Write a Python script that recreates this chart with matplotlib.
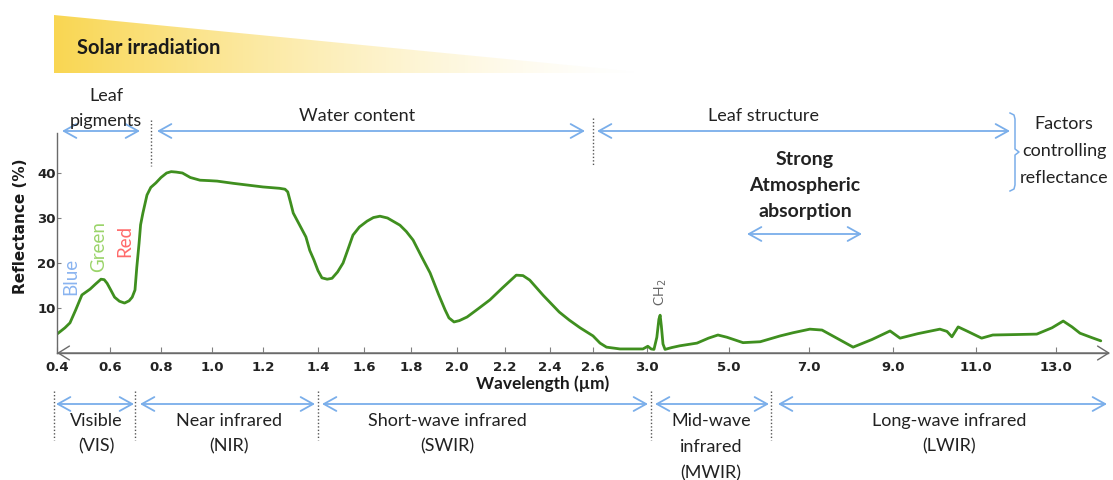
import numpy as np
import matplotlib
matplotlib.use('Agg')
import matplotlib.pyplot as plt
from matplotlib.patches import Polygon
from matplotlib.ticker import FixedLocator, FixedFormatter, NullLocator

plt.rcParams['font.family'] = ['Lato', 'DejaVu Sans']

# ---------------- data ----------------
wavelength = [0.40, 0.43, 0.449, 0.47, 0.494, 0.525, 0.545, 0.566, 0.578, 0.589,
              0.603, 0.618, 0.637, 0.657, 0.675, 0.687, 0.698, 0.705, 0.714, 0.72,
              0.729, 0.745, 0.76, 0.78, 0.80, 0.822, 0.84, 0.86, 0.884, 0.915,
              0.953, 0.99, 1.02, 1.084, 1.2, 1.26, 1.28, 1.29, 1.30, 1.31,
              1.33, 1.356, 1.37, 1.385, 1.40, 1.417, 1.44, 1.461, 1.485, 1.509,
              1.53, 1.552, 1.58, 1.613, 1.64, 1.668, 1.70, 1.753, 1.78, 1.809,
              1.845, 1.883, 1.92, 1.948, 1.965, 1.987, 2.01, 2.042, 2.09, 2.137,
              2.19, 2.25, 2.28, 2.31, 2.37, 2.443, 2.49, 2.54, 2.60, 2.652,
              2.70, 2.8, 2.97, 3.02, 3.10, 3.17, 3.24, 3.29, 3.32, 3.35,
              3.39, 3.44, 3.6, 3.8, 4.22, 4.5, 4.73, 4.95, 5.35, 5.78,
              6.28, 6.6, 7.02, 7.31, 7.7, 8.05, 8.5, 8.93, 9.17, 9.6,
              10.13, 10.3, 10.42, 10.57, 10.8, 11.14, 11.42, 12.0, 12.52, 12.9,
              13.18, 13.4, 13.6, 13.9, 14.12]
reflectance = [4.2, 5.6, 6.7, 9.5, 12.9, 14.2, 15.3, 16.4, 16.3, 15.5,
               14.0, 12.4, 11.5, 11.1, 11.6, 12.4, 14.0, 19.0, 24.4, 28.5,
               31.1, 35.1, 36.8, 37.8, 39.0, 40.0, 40.3, 40.2, 40.0, 39.0,
               38.4, 38.3, 38.2, 37.7, 36.9, 36.6, 36.4, 35.8, 33.5, 31.1,
               28.8, 25.8, 22.8, 20.7, 18.3, 16.7, 16.4, 16.6, 18.0, 20.0,
               23.0, 26.2, 28.0, 29.3, 30.1, 30.4, 30.0, 28.4, 27.0, 25.1,
               21.5, 17.8, 13.0, 9.6, 7.8, 6.9, 7.2, 8.0, 9.9, 11.8,
               14.5, 17.3, 17.2, 16.2, 12.8, 9.1, 7.3, 5.6, 3.8, 2.2,
               1.3, 0.9, 0.9, 1.5, 0.9, 0.8, 3.5, 7.5, 8.4, 6.0,
               2.0, 0.8, 1.2, 1.6, 2.2, 3.3, 4.0, 3.5, 2.3, 2.5,
               3.8, 4.5, 5.3, 5.1, 3.1, 1.3, 3.0, 4.9, 3.3, 4.3,
               5.3, 4.8, 3.6, 5.8, 4.8, 3.3, 4.0, 4.1, 4.2, 5.6,
               7.1, 5.8, 4.4, 3.4, 2.7]

tick_wavelengths = [0.4, 0.6, 0.8, 1.0, 1.2, 1.4, 1.6, 1.8, 2.0, 2.2, 2.4, 2.6,
                    3.0, 5.0, 7.0, 9.0, 11.0, 13.0]
tick_labels = ['0.4', '0.6', '0.8', '1.0', '1.2', '1.4', '1.6', '1.8', '2.0', '2.2',
               '2.4', '2.6', '3.0', '5.0', '7.0', '9.0', '11.0', '13.0']
y_ticks = [10, 20, 30, 40]
y_tick_labels = ['10', '20', '30', '40']

# ---------------- layout of the broken wavelength axis (figure pixels) ----------------
SCALE_WL = [0.3] + tick_wavelengths + [15.0]
SCALE_PX = [31, 57, 110, 161, 212, 263, 318, 364, 411, 457, 505, 550, 593,
            647, 729, 809, 893, 976, 1056, 1136]


def fwd(x):
    return np.interp(x, SCALE_WL, SCALE_PX)


def inv(p):
    return np.interp(p, SCALE_PX, SCALE_WL)


W, H = 1113, 480
fig = plt.figure(figsize=(W / 100, H / 100), dpi=100)

# overlay in pixel coordinates for the diagram annotations
ov = fig.add_axes([0, 0, 1, 1], zorder=0)
ov.set_xlim(0, W)
ov.set_ylim(H, 0)
ov.axis('off')

# main reflectance axes
ax_left, ax_right, ax_top, ax_bot = 57, 1108, 133, 353
ax = fig.add_axes([ax_left / W, (H - ax_bot) / H, (ax_right - ax_left) / W,
                   (ax_bot - ax_top) / H], zorder=1)
ax.set_facecolor('none')
ax.set_xscale('function', functions=(fwd, inv))
ax.set_xlim(0.4, float(inv(ax_right)))
ax.set_ylim(0, (ax_bot - ax_top) / 4.5)

ax.plot(wavelength, reflectance, color='#3f8f1f', lw=2.0, solid_joinstyle='round',
        solid_capstyle='round')

for s in ['top', 'right']:
    ax.spines[s].set_visible(False)
for s in ['left', 'bottom']:
    ax.spines[s].set_color('#6a6a6a')
    ax.spines[s].set_linewidth(1.0)

ax.xaxis.set_major_locator(FixedLocator(tick_wavelengths))
ax.xaxis.set_major_formatter(FixedFormatter(tick_labels))
ax.xaxis.set_minor_locator(NullLocator())
ax.yaxis.set_major_locator(FixedLocator(y_ticks))
ax.yaxis.set_major_formatter(FixedFormatter(y_tick_labels))
ax.yaxis.set_minor_locator(NullLocator())
ax.tick_params(axis='x', direction='in', length=4, width=0.8, color='#808080',
               pad=6, labelsize=9.5, labelcolor='#222222')
ax.tick_params(axis='y', direction='in', length=3, width=0.8, color='#808080',
               pad=1, labelsize=9.5, labelcolor='#222222')
for lbl in ax.get_xticklabels() + ax.get_yticklabels():
    lbl.set_fontweight('bold')
    lbl.set_family('DejaVu Sans')

# axis arrowheads
ov.annotate('', xy=(1110, ax_bot), xytext=(57, ax_bot),
            arrowprops=dict(arrowstyle='<->,head_length=0.8,head_width=0.5',
                            color='#6a6a6a', lw=1.0, mutation_scale=10,
                            shrinkA=0, shrinkB=0))

# ---------------- solar irradiation wedge ----------------
grad = np.zeros((2, 400, 4))
t = np.linspace(0, 1, 400)
grad[..., 0] = 0.98
grad[..., 1] = 0.84
grad[..., 2] = 0.32
grad[..., 3] = (1 - t) ** 1.5
im = ov.imshow(grad, extent=[54, 650, 73, 15], aspect='auto', zorder=0,
               interpolation='bilinear')
wedge = Polygon([(54, 15), (54, 73), (650, 73)], closed=True, transform=ov.transData,
                facecolor='none', edgecolor='none')
ov.add_patch(wedge)
im.set_clip_path(wedge)
ov.set_xlim(0, W)
ov.set_ylim(H, 0)
ov.text(77, 48, 'Solar irradiation', fontsize=14.5, fontweight='bold', color='#1a1a1a',
        ha='left', va='center')

# ---------------- helpers ----------------
ARROW_C = '#7aaeea'


def harrow(y, x0, x1):
    ov.annotate('', xy=(x1, y), xytext=(x0, y),
                arrowprops=dict(arrowstyle='<->,head_length=0.9,head_width=0.5',
                                color=ARROW_C, lw=1.3, mutation_scale=10,
                                shrinkA=0, shrinkB=0))


def vdot(x, y0, y1):
    ov.plot([x, x], [y0, y1], color='#555555', lw=1.0, ls=(0, (1, 1.5)))


TXT = '#222222'
REG = 13

# top factors
harrow(131, 62, 140)
harrow(131, 157, 585)
harrow(131, 597, 1010)
vdot(151, 120, 166)
vdot(593, 118, 166)
ov.text(106, 96, 'Leaf', fontsize=REG, color=TXT, ha='center', va='center')
ov.text(106, 121, 'pigments', fontsize=REG, color=TXT, ha='center', va='center')
ov.text(357, 116, 'Water content', fontsize=REG, color=TXT, ha='center', va='center')
ov.text(763, 116, 'Leaf structure', fontsize=REG, color=TXT, ha='center', va='center')

# brace
bx = [1010, 1014, 1015, 1015, 1019, 1015, 1015, 1014, 1010]
by = [113, 115, 119, 149, 152, 155, 185, 189, 191]
ov.plot(bx, by, color=ARROW_C, lw=1.1)
ov.text(1064, 124, 'Factors', fontsize=REG, color=TXT, ha='center', va='center')
ov.text(1064, 151, 'controlling', fontsize=REG, color=TXT, ha='center', va='center')
ov.text(1064, 178, 'reflectance', fontsize=REG, color=TXT, ha='center', va='center')

# atmospheric absorption
ov.text(805, 160, 'Strong', fontsize=14, fontweight='bold', color=TXT, ha='center', va='center')
ov.text(805, 186, 'Atmospheric', fontsize=14, fontweight='bold', color=TXT, ha='center', va='center')
ov.text(805, 211, 'absorption', fontsize=14, fontweight='bold', color=TXT, ha='center', va='center')
harrow(234, 747, 862)

# colour labels and CH2
ov.text(71, 276, 'Blue', fontsize=13.5, color='#8ab4f0', rotation=90, ha='center', va='center', zorder=3)
ov.text(99, 246, 'Green', fontsize=13.5, color='#9bd46a', rotation=90, ha='center', va='center', zorder=3)
ov.text(125, 241, 'Red', fontsize=13.5, color='#ff6a6a', rotation=90, ha='center', va='center', zorder=3)
ov.text(661, 292, r'CH$_2$', fontsize=10, color='#666666', rotation=90, ha='center', va='center')

# axis labels
ov.text(21, 226, 'Reflectance (%)', fontsize=11, fontweight='bold', family='DejaVu Sans',
        color='#1a1a1a', rotation=90, ha='center', va='center')
ov.text(543, 384, 'Wavelength (µm)', fontsize=12.4, fontweight='bold', color='#1a1a1a',
        ha='center', va='center')

# bottom spectral regions
for x in [54, 135, 318, 651, 771]:
    vdot(x, 391, 440)
harrow(404, 56, 134)
harrow(404, 140, 315)
harrow(404, 322, 648)
harrow(404, 655, 769)
harrow(404, 778, 1107)
ov.text(96, 421, 'Visible', fontsize=REG, color=TXT, ha='center', va='center')
ov.text(96, 446, '(VIS)', fontsize=REG, color=TXT, ha='center', va='center')
ov.text(229, 421, 'Near infrared', fontsize=REG, color=TXT, ha='center', va='center')
ov.text(229, 446, '(NIR)', fontsize=REG, color=TXT, ha='center', va='center')
ov.text(447, 421, 'Short-wave infrared', fontsize=REG, color=TXT, ha='center', va='center')
ov.text(447, 446, '(SWIR)', fontsize=REG, color=TXT, ha='center', va='center')
ov.text(711, 421, 'Mid-wave', fontsize=REG, color=TXT, ha='center', va='center')
ov.text(711, 447, 'infrared', fontsize=REG, color=TXT, ha='center', va='center')
ov.text(711, 473, '(MWIR)', fontsize=REG, color=TXT, ha='center', va='center')
ov.text(949, 421, 'Long-wave infrared', fontsize=REG, color=TXT, ha='center', va='center')
ov.text(949, 446, '(LWIR)', fontsize=REG, color=TXT, ha='center', va='center')

fig.savefig('out.png', dpi=100)
